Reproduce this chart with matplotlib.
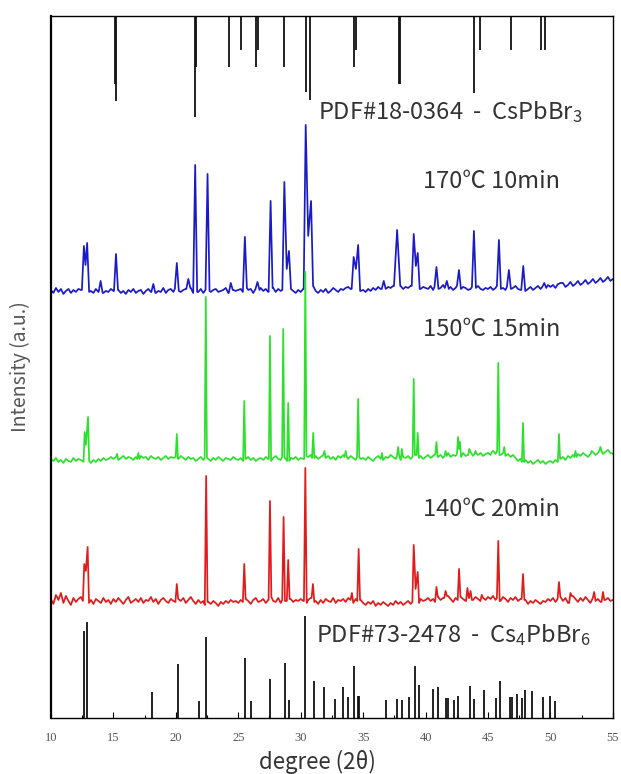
import numpy as np
import matplotlib
matplotlib.use("Agg")
import matplotlib.pyplot as plt

plt.rcParams["font.family"] = ["Noto Sans CJK SC", "DejaVu Sans"]
plt.rcParams["mathtext.fontset"] = "custom"
plt.rcParams["mathtext.rm"] = "Noto Sans CJK SC"
plt.rcParams["mathtext.it"] = "Noto Sans CJK SC"

# ---- data ------------------------------------------------------------------

X_MIN, X_MAX = 10, 55
TOP = 702  # y-range of the stacked plot (a.u.)

# baseline wiggle of each pattern, one value every 0.2 deg from 10 to 55
blue_noise = [
    1, -2, 3, -1, 2, -3, 0, 2, -2, 1, -1, 2, 1, 3, 2, -1, 0, -2, 2, -1, 1, -2, 0, -1, 2,
    0, 3, 1, -2, 0, -3, 1, -1, 2, -2, 0, 1, -3, 0, 2, -1, 1, -2, 0, -1, 3, -2, 1, 2, -1,
    2, 0, -1, 1, 2, 1, 3, -2, 0, -1, 2, -2, 1, 0, -1, 1, 2, -1, 0, 1, 3, -2, 2, 1, 0,
    1, 2, -1, 3, 1, 2, -2, 2, 1, 3, 0, 2, -1, 1, 3, -1, 2, 0, 1, 3, -1, 2, 0, -2, 1,
    -1, 2, 4, 3, 1, 5, 0, -2, 1, -1, 2, -2, 0, 3, 1, -1, 2, 1, 3, 4, 2, 1, 3, 2, 0,
    1, -1, 2, 0, 3, 1, 4, 2, 3, 2, 4, 3, 5, 4, 3, 5, 2, 4, 3, 5, 6, 4, 3, 2, 4,
    3, 2, 5, 1, 4, 2, 3, 6, 3, 2, 4, 1, 3, 5, 2, 4, 3, 1, 2, 4, 3, 5, 2, 1, 3,
    2, 4, 1, 3, 5, 2, 3, 1, 4, 2, 3, 5, 2, 1, 3, 0, 2, 4, 1, 3, 5, 2, 4, 3, 6,
    4, 6, 3, 7, 5, 8, 4, 6, 9, 5, 7, 10, 6, 8, 11, 7, 9, 12, 8, 10, 13, 9, 11, 14, 10,
    12,
]
green_noise = [
    0, -2, 1, -3, -1, -4, 0, -2, -3, 1, -2, 0, -1, -3, -4, -2, -4, -1, -3, 0, -2, 1, -1, 0, 2,
    0, 2, -1, 1, 3, 0, 2, 1, -1, 2, 0, 3, 1, 2, -1, 3, 1, 0, 2, -1, 1, 3, 0, 2, 1,
    2, 0, 3, 1, -1, 2, 0, 1, -2, 0, 2, -1, 1, 0, -2, 1, -1, 2, 0, -2, 1, 0, -1, 2, 0,
    -1, 1, -2, 0, 2, -1, 1, -2, 0, 1, -1, 2, 0, -2, 1, 3, 0, -1, 2, 0, -2, 1, 0, 2, -1,
    1, 0, 3, 2, 4, 1, 3, 0, 2, 4, 1, 3, 0, 2, -1, 3, 1, 4, 2, 0, 3, 1, -1, 2, 0,
    1, -1, 2, 0, -2, 1, 3, 0, -1, 2, 1, 4, 2, 0, 3, -1, 2, 1, 3, 0, 2, 4, 1, 3, 0,
    2, 4, 1, 3, 5, 2, 4, 1, 3, 6, 2, 4, 3, 5, 2, 6, 3, 4, 7, 3, 5, 4, 6, 3, 5,
    6, 4, 7, 5, 8, 4, 6, 3, 5, 2, 4, 1, -2, 0, -3, -1, -4, -2, -5, -3, -1, -4, -2, -5, -3,
    -2, -4, -1, -3, 0, 2, -1, 3, 1, 4, 2, 5, 3, 6, 4, 2, 5, 7, 4, 6, 8, 5, 7, 9, 6,
    5,
]
red_noise = [
    2, -3, 6, 1, 8, -2, 5, 0, -4, 3, -1, 2, 4, 0, 3, -2, 1, -3, 2, 0, -2, 3, -1, 1, -3,
    2, -1, 3, 0, -3, 1, 4, -2, 0, 2, -1, 3, -2, 1, 0, 4, -1, 2, -3, 1, 3, 0, -2, 2, 0,
    -1, 2, 0, 3, -2, 1, 4, 0, -3, 1, -2, 0, -4, -1, -3, 0, -2, -5, -1, -3, 0, -2, 1, -1, 0,
    -2, 1, -1, 2, 0, -3, 1, 3, -1, 0, 2, -2, 1, 4, 0, -1, 3, -2, 1, 0, -3, 2, -1, 1, 0,
    2, 0, -2, 1, 3, -1, 0, -3, 1, -2, 2, 0, -1, 3, -2, 1, 0, 2, -1, 3, 1, -2, 2, 0, 1,
    -2, -4, -1, -3, 0, -5, -2, -4, -1, -3, -5, -2, -4, 0, -3, -1, -4, -2, 0, -3, -1, 1, -2, 2, 0,
    1, 3, 0, 2, -1, 4, 1, 3, 0, 5, 2, -1, 3, 1, 4, 2, 0, 3, 5, 1, 4, 2, 0, 3, 1,
    4, 2, 5, 1, 3, 0, 4, 2, -1, 3, 1, 4, 0, 2, -2, 1, -3, 0, -2, 1, -1, -3, 0, -1, 2,
    0, 3, -1, 2, 4, 0, 3, -2, 1, 5, 2, -1, 3, 0, 4, 1, -2, 3, 0, 2, -1, 4, 1, 3, 0,
    1,
]

# diffraction peaks: (2theta, height above baseline[, half width])
blue_peaks = [(12.64, 45), (12.9, 48), (13.98, 10), (15.21, 37), (18.2, 7), (20.08, 28),
              (21.0, 12), (21.55, 126), (22.54, 117), (24.4, 8), (25.53, 54), (26.54, 9),
              (27.59, 90), (28.69, 109), (29.06, 40), (30.4, 166), (30.83, 90),
              (34.24, 34), (34.6, 46), (36.65, 10), (37.72, 61, 0.25), (39.05, 57),
              (39.37, 38), (40.87, 24), (41.7, 10), (42.67, 21), (43.87, 60), (45.87, 51),
              (46.67, 21), (47.82, 25), (49.5, 8), (50.8, 8)]
blue_valleys = [(12.77, 26), (28.88, 22), (30.6, 55), (34.42, 22), (39.22, 25)]

green_peaks = [(12.7, 27), (12.97, 42), (15.3, 5), (17.0, 6), (20.08, 25), (22.4, 162),
               (25.48, 58), (27.54, 123), (28.6, 130), (29.0, 56), (30.37, 187), (31.0, 26),
               (31.9, 8), (33.6, 8), (34.6, 60), (36.5, 6), (37.8, 12), (38.1, 10),
               (39.05, 80), (39.37, 26), (40.87, 17), (41.6, 8), (42.6, 22), (42.75, 17),
               (43.5, 10), (44.0, 8), (45.4, 8), (45.82, 96), (46.3, 12), (47.8, 36),
               (50.68, 25), (52.0, 8), (53.3, 8), (54.0, 12)]
green_valleys = [(12.8, 14), (42.68, 10)]

red_peaks = [(12.67, 37), (12.94, 54), (20.08, 17), (22.43, 125), (25.48, 37), (27.54, 100),
             (28.63, 84), (29.0, 41), (30.37, 133), (30.98, 17), (34.1, 8), (34.64, 52),
             (39.05, 56), (39.37, 29), (40.87, 14), (41.6, 10), (42.68, 32), (43.35, 13),
             (43.6, 10), (44.5, 6), (45.82, 60), (47.8, 27), (50.68, 19), (51.6, 8),
             (53.5, 9), (54.2, 9)]
red_valleys = [(12.8, 30), (39.2, 12)]

# reference patterns
cspbbr3_pos = [15.15, 15.25, 21.55, 21.65, 24.25, 25.25, 26.45, 26.55, 28.65, 30.45,
               30.72, 34.3, 34.4, 37.85, 37.95, 43.85, 44.35, 46.8, 49.25, 49.6]
cspbbr3_int = [68, 85, 101, 51, 51, 34, 51, 34, 51, 76,
               84, 51, 34, 68, 68, 77, 34, 34, 34, 34]

cs4pbbr6_pos = [12.63, 12.86, 18.09, 20.15, 21.88, 22.44, 25.52, 26.0, 27.58, 28.71,
                29.07, 30.35, 31.07, 31.9, 32.77, 33.36, 33.78, 34.26, 34.56, 34.68,
                36.8, 37.75, 38.14, 38.7, 39.15, 39.48, 40.59, 41.0, 41.66, 41.78,
                42.29, 42.59, 43.57, 43.84, 44.7, 45.66, 45.99, 46.73, 46.94, 47.33,
                47.69, 47.93, 48.49, 49.39, 49.93, 50.4]
cs4pbbr6_int = [87, 96, 26, 54, 17, 81, 60, 17, 39, 55,
                18, 102, 37, 31, 19, 31, 21, 52, 22, 22,
                18, 19, 18, 21, 52, 33, 29, 31, 20, 20,
                18, 22, 32, 19, 28, 20, 37, 21, 21, 24,
                20, 28, 27, 21, 22, 17]

labels = ["170℃ 10min", "150℃ 15min", "140℃ 20min"]
offsets = [427, 259, 117]
colors = ["#1a1ac8", "#2ee02e", "#e01b1b"]


def build_curve(noise, peaks, valleys, hw):
    """Join the baseline points and the read peak tops into one polyline."""
    grid = np.linspace(X_MIN, X_MAX, len(noise))
    noise = np.asarray(noise, float)
    peaks = [(p[0], p[1], p[2] if len(p) > 2 else hw) for p in peaks]
    keep = np.ones(len(grid), bool)
    for pos, h, w in peaks:
        keep &= np.abs(grid - pos) > w
    pts = list(zip(grid[keep], noise[keep]))
    tops = []
    for pos, h, w in peaks:
        for fx in (pos - w, pos + w):
            pts.append((fx, noise[np.argmin(np.abs(grid - fx))]))
        tops.append((pos, h))
    for vx, vy in valleys:
        left = max(t[0] for t in tops if t[0] < vx)
        right = min(t[0] for t in tops if t[0] > vx)
        pts = [p for p in pts if not (left < p[0] < right)]
        pts.append((vx, vy))
    pts += tops
    pts.sort()
    x, y = zip(*pts)
    return np.array(x), np.array(y)


curves = [
    build_curve(blue_noise, blue_peaks, blue_valleys, 0.16),
    build_curve(green_noise, green_peaks, green_valleys, 0.09),
    build_curve(red_noise, red_peaks, red_valleys, 0.11),
]

# ---- figure -----------------------------------------------------------------

fig = plt.figure(figsize=(6.21, 7.74), dpi=100)
ax = fig.add_axes([0.082, 0.0724, 0.905, 0.907])

for (x, y), off, c in zip(curves, offsets, colors):
    ax.plot(x, y + off, color=c, lw=1.25)

ax.vlines(cspbbr3_pos, TOP - np.array(cspbbr3_int), TOP, color="#111111", lw=1.3)
ax.vlines(cs4pbbr6_pos, 0, cs4pbbr6_int, color="#111111", lw=1.3)

txt = dict(fontsize=17, color="#333333", va="center")
ax.text(31.4, 606, "PDF#18-0364  -  CsPbBr$_3$", **txt)
ax.text(31.25, 83, "PDF#73-2478  -  Cs$_4$PbBr$_6$", **txt)
for lab, yy in zip(labels, [536, 388, 208]):
    ax.text(39.8, yy, lab, **txt)

ax.set_xlim(X_MIN, X_MAX)
ax.set_ylim(0, TOP)
ax.set_xticks(np.arange(10, 56, 5))
ax.set_xticks(np.arange(12.5, 55, 5), minor=True)
ax.set_yticks([])
ax.tick_params(axis="x", which="major", direction="in", length=4, width=0.8,
               labelsize=9, labelcolor="#555555", pad=10)
ax.tick_params(axis="x", which="minor", direction="in", length=2, width=0.8)
for lab in ax.get_xticklabels():
    lab.set_family("Liberation Serif")
for s in ax.spines.values():
    s.set_linewidth(1.0)
ax.spines["left"].set_linewidth(1.6)

ax.set_xlabel("degree (2θ)", fontsize=16, color="#333333")
ax.xaxis.set_label_coords(0.475, -0.045)
ax.set_ylabel("Intensity (a.u.)", fontsize=14, color="#555555", labelpad=14)

fig.savefig("out.png", dpi=100)
